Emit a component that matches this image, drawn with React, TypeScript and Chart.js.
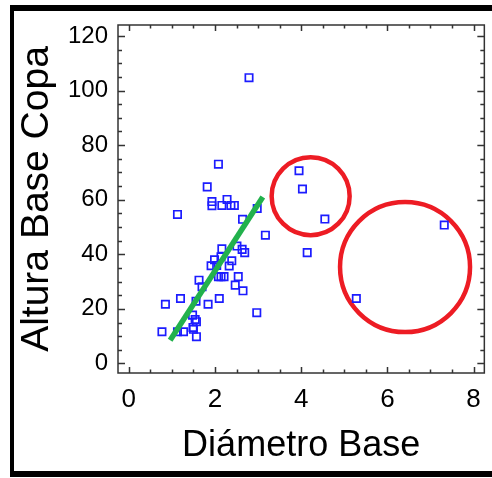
import React, { useEffect, useRef } from "react";
import { Chart, registerables } from "chart.js";

Chart.register(...registerables);

// Observed data: Diámetro Base vs Altura Base Copa
const diamBase = [
  2.79, 2.08, 1.82, 1.93, 1.93, 1.13, 2.16, 2.28, 2.37, 2.45,
  2.98, 2.64, 3.17, 2.16, 2.51, 2.63, 2.69, 1.99, 2.14, 1.91,
  2.04, 2.33, 2.39, 2.08, 2.14, 2.21, 2.54, 1.63, 1.70, 2.47,
  2.65, 0.85, 1.20, 1.56, 1.84, 2.10, 2.97, 1.48, 1.54, 1.57,
  1.49, 1.50, 0.77, 1.13, 1.27, 1.57, 3.95, 4.03, 4.55, 4.14,
  5.28, 7.32,
];
const alturaBase = [
  104.7, 73.0, 64.7, 59.3, 57.8, 54.6, 57.9, 60.1, 57.9, 57.9,
  56.8, 52.8, 47.0, 42.0, 43.0, 41.8, 40.6, 38.0, 39.1, 35.8,
  35.9, 35.7, 37.6, 31.8, 31.8, 31.8, 31.8, 30.5, 28.1, 28.7,
  26.6, 21.7, 23.8, 22.8, 21.7, 23.8, 18.6, 17.7, 16.1, 15.3,
  13.2, 12.5, 11.6, 11.6, 11.6, 9.8, 70.6, 63.9, 52.9, 40.6,
  23.8, 50.7,
];

// Green fitted segment
const fitX = [0.96, 3.11];
const fitY = [8.5, 61.0];

// Red highlight circles (centres)
const circleX = [4.22, 6.41];
const circleY = [61.3, 35.3];

const xTickValues = [0, 2, 4, 6, 8];
const yTickValues = [0, 20, 40, 60, 80, 100, 120];

const FONT = "'Liberation Sans', Arial, Helvetica, sans-serif";

export default function App() {
  const ref = useRef<HTMLCanvasElement>(null);

  useEffect(() => {
    if (!ref.current) return;

    const framePlugin = {
      id: "frameTicks",
      beforeDraw(chart: any) {
        const ctx = chart.ctx;
        ctx.save();
        ctx.fillStyle = "#ffffff";
        ctx.fillRect(0, 0, chart.width, chart.height);
        ctx.restore();
      },
      afterDraw(chart: any) {
        const ctx = chart.ctx;
        const { left, right, top, bottom } = chart.chartArea;
        const xs = chart.scales.x;
        const ys = chart.scales.y;
        ctx.save();
        // outer black border
        ctx.fillStyle = "#000";
        ctx.fillRect(10, 5, chart.width - 10, 6);
        ctx.fillRect(10, 5, 4, 472);
        ctx.fillRect(10, 471, chart.width - 10, 6);
        // plot frame
        ctx.strokeStyle = "#333";
        ctx.lineWidth = 1.5;
        ctx.strokeRect(left, top, right - left, bottom - top);
        ctx.beginPath();
        for (let v = 0; v <= 8.0001; v += 0.5) {
          const major = xTickValues.some((t) => Math.abs(t - v) < 1e-6);
          const len = major ? 6 : 3.5;
          const px = Math.round(xs.getPixelForValue(v)) + 0.5;
          ctx.moveTo(px, bottom);
          ctx.lineTo(px, bottom - len);
          ctx.moveTo(px, top);
          ctx.lineTo(px, top + len);
        }
        for (let v = 0; v <= 120.0001; v += 5) {
          const major = yTickValues.some((t) => Math.abs(t - v) < 1e-6);
          const len = major ? 7 : 4;
          const py = Math.round(ys.getPixelForValue(v)) + 0.5;
          ctx.moveTo(left, py);
          ctx.lineTo(left + len, py);
          ctx.moveTo(right, py);
          ctx.lineTo(right - len, py);
        }
        ctx.stroke();
        ctx.restore();
      },
    };

    const chart = new Chart(ref.current, {
      type: "scatter",
      data: {
        datasets: [
          {
            label: "ajuste",
            data: fitX.map((x, i) => ({ x, y: fitY[i] })),
            showLine: true,
            borderColor: "#22b14c",
            borderWidth: 5.5,
            pointRadius: 0,
            borderCapStyle: "butt",
            order: 1,
          },
          {
            label: "datos",
            data: diamBase.map((x, i) => ({ x, y: alturaBase[i] })),
            pointStyle: "rect",
            pointRadius: 5.2,
            borderColor: "#1c1cff",
            borderWidth: 1.7,
            backgroundColor: "rgba(0,0,0,0)",
            order: 2,
          },
          {
            label: "zonas",
            data: circleX.map((x, i) => ({ x, y: circleY[i] })),
            pointStyle: "circle",
            pointRadius: [39, 65],
            borderColor: "#ed1c24",
            borderWidth: 4.5,
            backgroundColor: "rgba(0,0,0,0)",
            order: 3,
          },
        ],
      } as any,
      options: {
        animation: false,
        responsive: false,
        devicePixelRatio: 1,
        events: [],
        layout: {
          autoPadding: false,
          padding: { top: 25, right: 7, left: 0, bottom: 0 },
        },
        plugins: {
          legend: { display: false },
          tooltip: { enabled: false },
        },
        scales: {
          x: {
            type: "linear",
            min: -0.25,
            max: 8.25,
            afterFit: (s: any) => {
              s.height = 105;
            },
            afterBuildTicks: (s: any) => {
              s.ticks = xTickValues.map((v) => ({ value: v }));
            },
            ticks: {
              stepSize: 2,
              includeBounds: false,
              maxRotation: 0,
              padding: 11,
              color: "#000",
              font: { family: FONT, size: 26 },
            },
            grid: { display: false, drawTicks: false },
            border: { display: false },
            title: {
              display: true,
              text: "Diámetro Base",
              color: "#000",
              font: { family: FONT, size: 36 },
              padding: { top: 0, bottom: 10 },
            },
          },
          y: {
            type: "linear",
            min: -3.5,
            max: 124,
            afterFit: (s: any) => {
              s.width = 118;
            },
            afterBuildTicks: (s: any) => {
              s.ticks = yTickValues.map((v) => ({ value: v }));
            },
            ticks: {
              stepSize: 20,
              includeBounds: false,
              padding: 10,
              color: "#000",
              font: { family: FONT, size: 24 },
            },
            grid: { display: false, drawTicks: false },
            border: { display: false },
            title: {
              display: true,
              text: "Altura Base Copa",
              color: "#000",
              font: { family: FONT, size: 39 },
              padding: { top: 14, bottom: 0 },
            },
          },
        },
      } as any,
      plugins: [framePlugin],
    });

    return () => chart.destroy();
  }, []);

  return (
    <div
      style={{
        position: "fixed",
        left: 0,
        top: 0,
        width: 492,
        height: 478,
        background: "#fff",
        overflow: "hidden",
      }}
    >
      <canvas
        ref={ref}
        width={492}
        height={478}
        style={{ display: "block", width: 492, height: 478 }}
      />
    </div>
  );
}
